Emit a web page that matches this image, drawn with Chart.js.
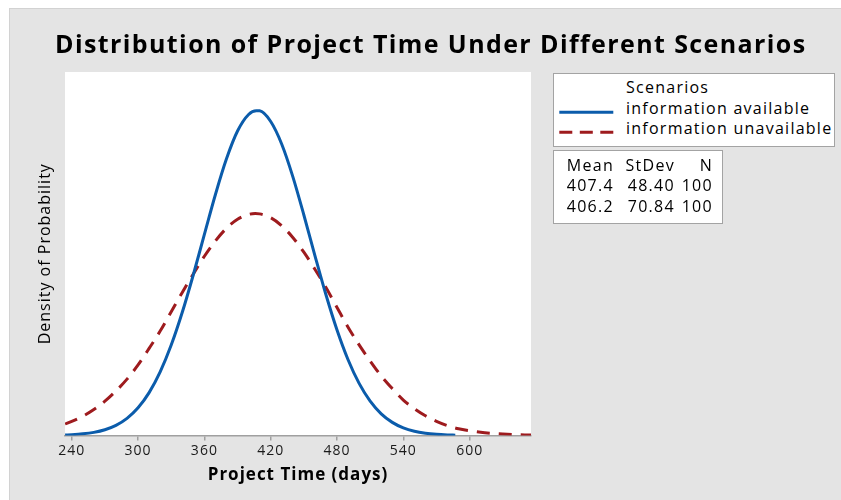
<!DOCTYPE html>
<html lang="en">
<head>
<meta charset="UTF-8">
<title>Distribution of Project Time Under Different Scenarios</title>
<script src="https://cdn.jsdelivr.net/npm/chart.js"></script>
<style>
  html, body { margin: 0; padding: 0; background: #fff; }
  body { width: 841px; height: 500px; position: relative; overflow: hidden; font-family: 'Open Sans', sans-serif; color: #000; }
  .frame { position: absolute; left: 9px; top: 8px; right: 0; bottom: 0; background: #e4e4e4; border-left: 1px solid #d2d2d2; border-top: 1px solid #d2d2d2; }
  #chart { position: absolute; left: 0; top: 0; }
  h1 { position: absolute; left: 55px; top: 26.3px; margin: 0; font-size: 25px; line-height: 34px; font-weight: bold; letter-spacing: 1.4px; white-space: nowrap; }
  .box { position: absolute; background: #fff; border: 1px solid #a3a3a3; box-sizing: border-box; }
  .legend { left: 553px; top: 73px; width: 282px; height: 74px; font-size: 16px; letter-spacing: 1.25px; }
  .legend .row { position: absolute; left: 72px; line-height: 21px; white-space: nowrap; }
  .legend svg { position: absolute; left: 0; top: 0; }
  .stats { left: 553px; top: 150px; width: 170px; height: 74px; font-size: 16px; letter-spacing: 1.3px; }
  .stats table { position: absolute; left: 0; top: 3.5px; border-collapse: collapse; table-layout: fixed; }
  .stats td { padding: 0; line-height: 20.5px; text-align: right; white-space: nowrap; }
</style>
</head>
<body>
<div class="frame"></div>
<canvas id="chart" width="841" height="500"></canvas>
<h1 id="title">Distribution of Project Time Under Different Scenarios</h1>

<div class="box legend">
  <svg width="70" height="72">
    <line id="sample0" x1="5.3" y1="38.3" x2="59.3" y2="38.3" stroke-width="3"/>
    <line id="sample1" x1="5.3" y1="58.3" x2="59.3" y2="58.3" stroke-width="3" stroke-dasharray="13 7.5"/>
  </svg>
  <div class="row" style="top:2.6px">Scenarios</div>
  <div class="row" id="name0" style="top:24.3px"></div>
  <div class="row" id="name1" style="top:44.3px"></div>
</div>

<div class="box stats">
  <table>
    <colgroup><col style="width:60px"><col style="width:61px"><col style="width:38px"></colgroup>
    <tbody id="statsBody">
      <tr><td>Mean</td><td>StDev</td><td>N</td></tr>
    </tbody>
  </table>
</div>

<script>
// values
const seriesNames = ['information available', 'information unavailable'];
const seriesColors = ['#0b5cab', '#9e1b1e'];
const means = ['407.4', '406.2'];
const stdevs = ['48.40', '70.84'];
const counts = ['100', '100'];

const xTickValues = [240, 300, 360, 420, 480, 540, 600];

const daysAvailable = [234, 240, 250, 260, 270, 280, 290, 300, 310, 320, 330, 340, 350, 360, 370, 380, 390, 400, 407,
  410, 420, 430, 440, 450, 460, 470, 480, 490, 500, 510, 520, 530, 540, 550, 560, 570, 580, 587];
const densityAvailable = [0.0000135, 0.0000208, 0.0000417, 0.0000798, 0.000147, 0.000258, 0.000435, 0.000703, 0.001088,
  0.001615, 0.002295, 0.003126, 0.004080, 0.005103, 0.006117, 0.007022, 0.007727, 0.008147, 0.008243,
  0.008240, 0.007968, 0.007392, 0.006571, 0.005596, 0.004567, 0.003571, 0.002676, 0.001922, 0.001322,
  0.000872, 0.000550, 0.000333, 0.000193, 0.000107, 0.0000572, 0.0000292, 0.0000143, 0.0000084];

const daysUnavailable = [234, 240, 250, 260, 270, 280, 290, 300, 310, 320, 330, 340, 350, 360, 370, 380, 390, 400, 406,
  410, 420, 430, 440, 450, 460, 470, 480, 490, 500, 510, 520, 530, 540, 550, 560, 570, 580, 590, 600,
  610, 620, 630, 640, 650, 656];
const densityUnavailable = [0.000293, 0.000359, 0.000490, 0.000660, 0.000870, 0.001130, 0.001430, 0.001790, 0.002210,
  0.002650, 0.003140, 0.003630, 0.004100, 0.004550, 0.004940, 0.005260, 0.005487, 0.005611, 0.005632,
  0.005624, 0.005526, 0.005323, 0.005026, 0.004652, 0.004221, 0.003754, 0.003250, 0.002750, 0.002300,
  0.001890, 0.001510, 0.001190, 0.000900, 0.000680, 0.000500, 0.000360, 0.000250, 0.000170, 0.000120,
  0.0000820, 0.0000560, 0.0000370, 0.0000240, 0.0000150, 0.0000110];

const toPoints = (xs, ys) => xs.map((x, i) => ({ x: x, y: ys[i] }));

// legend + stats boxes
seriesNames.forEach((name, i) => {
  document.getElementById('name' + i).textContent = name;
  document.getElementById('sample' + i).setAttribute('stroke', seriesColors[i]);
  const tr = document.createElement('tr');
  [means[i], stdevs[i], counts[i]].forEach(v => {
    const td = document.createElement('td');
    td.textContent = v;
    tr.appendChild(td);
  });
  document.getElementById('statsBody').appendChild(tr);
});

// white plot area, and the slightly spaced lettering of the original
const plotBackground = {
  id: 'plotBackground',
  beforeDraw(chart) {
    const { ctx, chartArea: a } = chart;
    ctx.save();
    ctx.fillStyle = '#fff';
    ctx.fillRect(a.left, a.top, a.right - a.left, a.bottom - a.top);
    ctx.restore();
    ctx.letterSpacing = '1px';
  }
};

new Chart(document.getElementById('chart'), {
  type: 'line',
  data: {
    datasets: [
      { label: seriesNames[0], data: toPoints(daysAvailable, densityAvailable), borderColor: seriesColors[0],
        borderWidth: 3, pointRadius: 0, cubicInterpolationMode: 'monotone', fill: false },
      { label: seriesNames[1], data: toPoints(daysUnavailable, densityUnavailable), borderColor: seriesColors[1],
        borderWidth: 3, borderDash: [13, 9], pointRadius: 0, cubicInterpolationMode: 'monotone', fill: false }
    ]
  },
  options: {
    responsive: false,
    animation: false,
    events: [],
    layout: { padding: { left: 24, right: 0, top: 72, bottom: 0 } },
    plugins: {
      legend: { display: false },
      tooltip: { enabled: false },
      title: { display: false }
    },
    scales: {
      x: {
        type: 'linear', min: 233.9, max: 655.5,
        afterBuildTicks: s => { s.ticks = xTickValues.map(v => ({ value: v })); },
        afterFit: s => { s.height = 64.5; },
        ticks: { color: '#1a1a1a', font: { family: 'Open Sans', size: 14 }, padding: 2, maxRotation: 0 },
        grid: { drawOnChartArea: false, drawTicks: true, tickLength: 5, color: '#a0a0a0', lineWidth: 1.5 },
        border: { display: true, color: '#a0a0a0', width: 1.5 },
        title: {
          display: true, text: 'Project Time (days)', color: '#000',
          font: { family: 'Open Sans', size: 17, weight: 'bold', lineHeight: 1.2 },
          padding: { top: 0, bottom: 15 }
        }
      },
      y: {
        min: 0, max: 0.009225,
        afterFit: s => { s.width = 41; },
        ticks: { display: false },
        grid: { display: false },
        border: { display: false },
        title: {
          display: true, text: 'Density of Probability', color: '#000',
          font: { family: 'Open Sans', size: 16, lineHeight: 1.2 },
          padding: { top: 11.4, bottom: 0 }
        }
      },
      spacer: {
        position: 'right',
        ticks: { display: false }, grid: { display: false }, border: { display: false },
        afterFit: s => { s.width = 310; }
      }
    }
  },
  plugins: [plotBackground]
});
</script>
</body>
</html>
